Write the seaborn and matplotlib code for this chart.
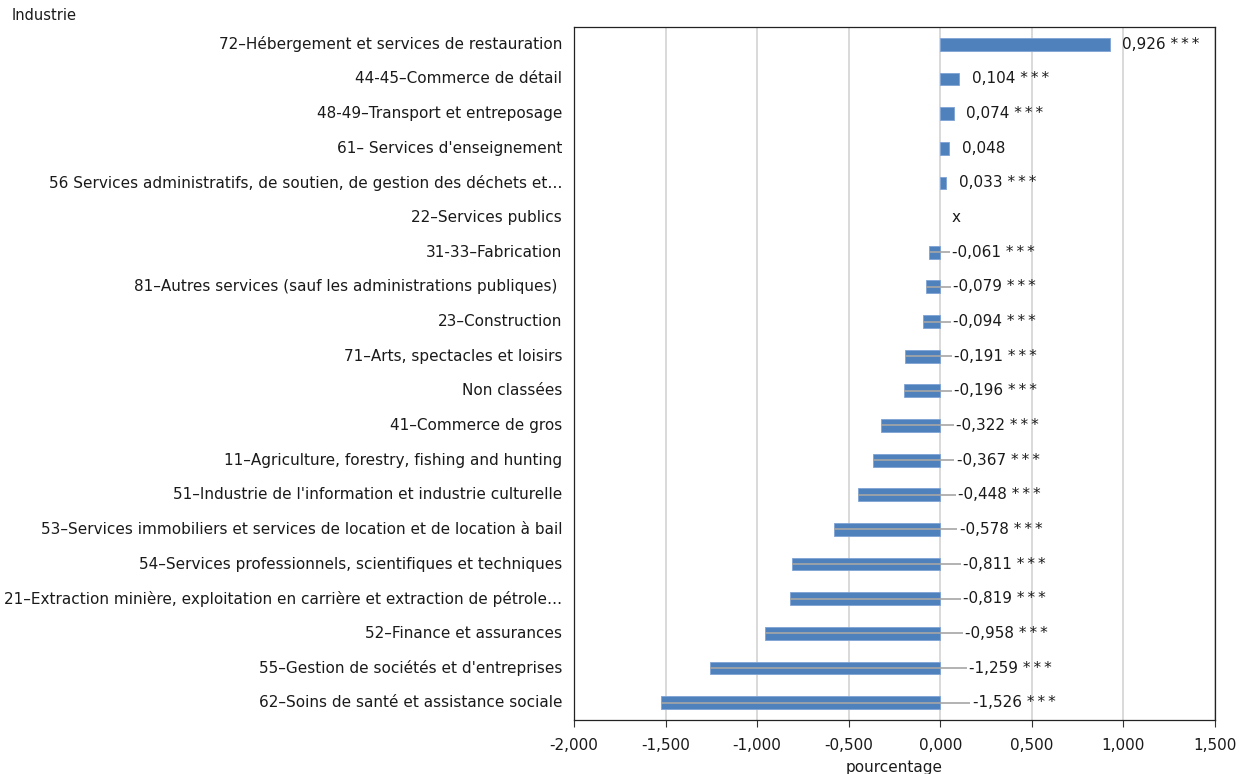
import numpy as np
import pandas as pd
import matplotlib
matplotlib.use("Agg")
import matplotlib.pyplot as plt
import seaborn as sns

industries = [
    "72–Hébergement et services de restauration",
    "44-45–Commerce de détail",
    "48-49–Transport et entreposage",
    "61– Services d'enseignement",
    "56 Services administratifs, de soutien, de gestion des déchets et…",
    "22–Services publics",
    "31-33–Fabrication",
    "81–Autres services (sauf les administrations publiques) ",
    "23–Construction",
    "71–Arts, spectacles et loisirs",
    "Non classées",
    "41–Commerce de gros",
    "11–Agriculture, forestry, fishing and hunting",
    "51–Industrie de l'information et industrie culturelle",
    "53–Services immobiliers et services de location et de location à bail",
    "54–Services professionnels, scientifiques et techniques",
    "21–Extraction minière, exploitation en carrière et extraction de pétrole…",
    "52–Finance et assurances",
    "55–Gestion de sociétés et d'entreprises",
    "62–Soins de santé et assistance sociale",
]
values = [0.926, 0.104, 0.074, 0.048, 0.033, np.nan, -0.061, -0.079, -0.094,
          -0.191, -0.196, -0.322, -0.367, -0.448, -0.578, -0.811, -0.819,
          -0.958, -1.259, -1.526]
significance = ["***", "***", "***", "", "***", "", "***", "***", "***", "***",
                "***", "***", "***", "***", "***", "***", "***", "***", "***", "***"]
x_ticks = [-2.0, -1.5, -1.0, -0.5, 0.0, 0.5, 1.0, 1.5]

df = pd.DataFrame({"Industrie": industries, "pourcentage": values})

sns.set_theme(style="white")
plt.rcParams["font.family"] = ["DejaVu Sans"]

fig = plt.figure(figsize=(12.44, 7.74), dpi=100)
ax = fig.add_axes([574 / 1244, 1 - 720 / 774, (1215 - 574) / 1244, (720 - 27) / 774])

bar_color = "#4F81BD"
sns.barplot(data=df, y="Industrie", x="pourcentage", order=industries,
            orient="h", color=bar_color, saturation=1, width=0.37,
            edgecolor="#7EA3D4", linewidth=0.6, ax=ax, zorder=3)

fs = 11
ax.set_xlim(-2.0, 1.5)
ax.set_ylim(len(industries) - 0.5, -0.5)
ax.set_xticks(x_ticks)
ax.set_xticklabels([f"{t:.3f}".replace(".", ",") for t in x_ticks], fontsize=fs, color="#1a1a1a")
ax.tick_params(axis="x", which="both", bottom=True, length=5, width=0.8,
               color="#333333", pad=8)
ax.tick_params(axis="y", length=0, pad=8.5, labelsize=fs, labelcolor="#1a1a1a")
for lbl in ax.get_yticklabels():
    lbl.set_verticalalignment("center")
ax.xaxis.grid(True, color="#D9D9D9", linewidth=1.4, zorder=0)
ax.yaxis.grid(False)
ax.set_axisbelow(True)
ax.set_xlabel("pourcentage", fontsize=fs, color="#1a1a1a", labelpad=5)
ax.set_ylabel("")
for side in ["left", "right", "top", "bottom"]:
    ax.spines[side].set_visible(True)
    ax.spines[side].set_color("#222222")
    ax.spines[side].set_linewidth(0.9)

# value labels with leader lines for the negative bars
star_gap = "\u2009"
for i, (v, s) in enumerate(zip(values, significance)):
    if np.isnan(v):
        ax.annotate("x", xy=(0, i), xytext=(8, 0), textcoords="offset points",
                    va="center", ha="left", fontsize=fs, color="#1a1a1a")
        continue
    stars = star_gap.join(s)
    text = f"{v:.3f}".replace(".", ",") + (f" {stars}" if s else "")
    if v >= 0:
        ax.annotate(text, xy=(v, i), xytext=(9, 0), textcoords="offset points",
                    va="center", ha="left", fontsize=fs, color="#1a1a1a")
    else:
        start = 0.062 + 0.075 * abs(v)
        ax.plot([v, start - 0.012], [i, i], color="#A6A6A6", linewidth=1.2,
                zorder=4, solid_capstyle="butt")
        ax.text(start, i, text, va="center", ha="left", fontsize=fs, color="#1a1a1a")

fig.text(12 / 1244, 1 - 15 / 774, "Industrie", fontsize=fs - 0.5, color="#1a1a1a",
         ha="left", va="center")

fig.savefig("out.png", dpi=100, facecolor="white")
